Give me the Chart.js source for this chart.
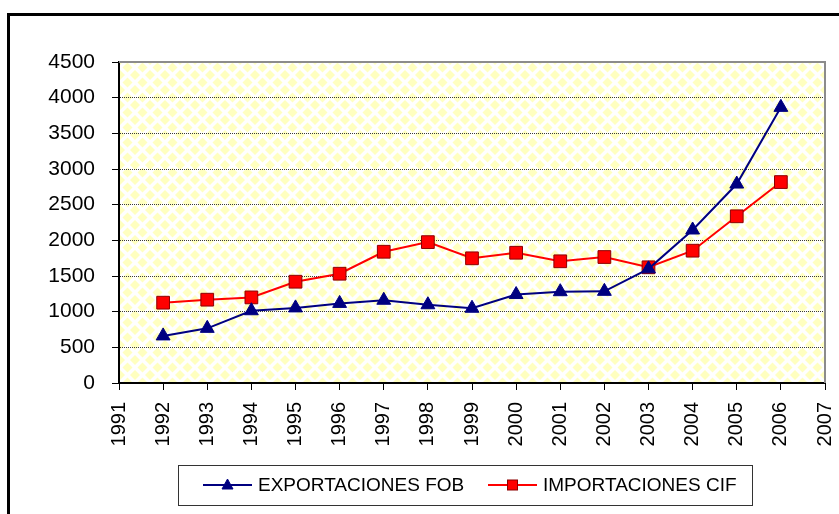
<!DOCTYPE html>
<html>
<head>
<meta charset="utf-8">
<script src="https://cdn.jsdelivr.net/npm/chart.js@4/dist/chart.umd.min.js"></script>
<style>
html,body{margin:0;padding:0;background:#fff;overflow:hidden;}
#wrap{position:relative;width:839px;height:514px;}
</style>
</head>
<body>
<div id="wrap"><canvas id="c" width="839" height="514"></canvas></div>
<script>
const years = ['1991','1992','1993','1994','1995','1996','1997','1998','1999','2000','2001','2002','2003','2004','2005','2006','2007'];
const exportaciones = [null, 660, 766, 1013, 1053, 1116, 1160, 1097, 1048, 1240, 1280, 1285, 1600, 2145, 2789, 3864, null];
const importaciones = [null, 1126, 1168, 1200, 1420, 1532, 1840, 1975, 1748, 1826, 1706, 1766, 1622, 1855, 2337, 2817, null];
const yTicks = [0, 500, 1000, 1500, 2000, 2500, 3000, 3500, 4000, 4500];
const seriesNames = ['EXPORTACIONES FOB', 'IMPORTACIONES CIF'];

function makePattern(ctx) {
  const p = document.createElement('canvas');
  p.width = 15; p.height = 15;
  const g = p.getContext('2d');
  g.fillStyle = '#ffffff';
  g.fillRect(0, 0, 15, 15);
  g.fillStyle = '#ffffc0';
  const d = 5;
  const pts = [[0,0],[15,0],[0,15],[15,15],[7.5,7.5]];
  pts.forEach(([x,y]) => {
    g.beginPath();
    g.moveTo(x, y - d); g.lineTo(x + d, y); g.lineTo(x, y + d); g.lineTo(x - d, y);
    g.closePath(); g.fill();
  });
  return ctx.createPattern(p, 'repeat');
}

const decor = {
  id: 'decor',
  beforeDraw(chart) {
    const {ctx, chartArea: a} = chart;
    ctx.save();
    ctx.fillStyle = '#000';
    ctx.fillRect(7, 13, 900, 3);
    ctx.fillRect(7, 13, 3, 600);
    ctx.fillStyle = makePattern(ctx);
    ctx.fillRect(a.left, a.top, a.right - a.left, a.bottom - a.top);
    ctx.restore();
  },
  beforeDatasetsDraw(chart) {
    const {ctx, chartArea: a} = chart;
    ctx.save();
    ctx.strokeStyle = '#8c8c8c';
    ctx.lineWidth = 2;
    ctx.beginPath();
    ctx.moveTo(a.left, a.top);
    ctx.lineTo(a.right, a.top);
    ctx.lineTo(a.right, a.bottom);
    ctx.stroke();
    ctx.restore();
  },
  afterDraw(chart) {
    const ctx = chart.ctx;
    ctx.save();
    ctx.strokeStyle = '#333';
    ctx.lineWidth = 1;
    ctx.strokeRect(178.5, 465.5, 574, 40);
    const cy = 485;
    const entries = [
      {x0: 203, x1: 252, tx: 258},
      {x0: 488, x1: 537, tx: 543}
    ];
    ctx.font = '19px "Liberation Sans", Arial, sans-serif';
    ctx.textBaseline = 'middle';
    ctx.textAlign = 'left';
    chart.data.datasets.forEach((ds, i) => {
      const e = entries[i];
      ctx.strokeStyle = ds.borderColor;
      ctx.lineWidth = 2;
      ctx.beginPath();
      ctx.moveTo(e.x0, cy); ctx.lineTo(e.x1, cy); ctx.stroke();
      const mx = (e.x0 + e.x1) / 2;
      ctx.fillStyle = ds.pointBackgroundColor;
      ctx.strokeStyle = ds.pointBorderColor;
      ctx.lineWidth = 1;
      if (ds.pointStyle === 'triangle') {
        ctx.beginPath();
        ctx.moveTo(mx, cy - 6); ctx.lineTo(mx + 5.5, cy + 4); ctx.lineTo(mx - 5.5, cy + 4);
        ctx.closePath(); ctx.fill(); ctx.stroke();
      } else {
        ctx.fillRect(mx - 5, cy - 5, 10, 10);
        ctx.strokeRect(mx - 5, cy - 5, 10, 10);
      }
      ctx.fillStyle = '#000';
      ctx.fillText(ds.label, e.tx, cy + 1);
    });
    ctx.restore();
  }
};

new Chart(document.getElementById('c'), {
  type: 'line',
  data: {
    labels: years,
    datasets: [
      {
        label: seriesNames[0],
        data: exportaciones,
        borderColor: '#000080',
        borderWidth: 2,
        pointStyle: 'triangle',
        pointRadius: 8,
        pointBackgroundColor: '#000080',
        pointBorderColor: '#000080',
        pointBorderWidth: 1,
        tension: 0
      },
      {
        label: seriesNames[1],
        data: importaciones,
        borderColor: '#ff0000',
        borderWidth: 2,
        pointStyle: 'rect',
        pointRadius: 9,
        pointBackgroundColor: '#ff0000',
        pointBorderColor: '#8b0000',
        pointBorderWidth: 1,
        tension: 0
      }
    ]
  },
  options: {
    responsive: false,
    animation: false,
    layout: {padding: {left: 0, top: 62, right: 14, bottom: 0}},
    plugins: {legend: {display: false}, tooltip: {enabled: false}, title: {display: false}},
    scales: {
      x: {
        type: 'category',
        offset: false,
        grid: {drawOnChartArea: false, drawTicks: true, tickLength: 7, tickColor: '#000', tickWidth: 1},
        border: {display: true, color: '#000', width: 2},
        ticks: {
          color: '#000',
          font: {family: '"Liberation Sans", Arial, sans-serif', size: 20},
          minRotation: 90, maxRotation: 90, padding: 12, autoSkip: false
        },
        afterFit(s) { s.height = 131; s.paddingLeft = 0; s.paddingRight = 0; }
      },
      y: {
        min: 0, max: 4500,
        afterBuildTicks(s) { s.ticks = yTicks.map(v => ({value: v})); },
        grid: {
          color: (c) => (c.tick && (c.tick.value === 0 || c.tick.value === 4500)) ? 'rgba(0,0,0,0)' : '#3a3a3a',
          lineWidth: 1,
          tickLength: 7, tickColor: '#000', tickWidth: 1, tickBorderDash: []
        },
        border: {display: true, color: '#000', width: 2, dash: [1, 1]},
        ticks: {
          color: '#000',
          font: {family: '"Liberation Sans", Arial, sans-serif', size: 21},
          padding: 17,
          callback: (v) => String(v)
        },
        afterFit(s) { s.width = 119; s.paddingTop = 0; s.paddingBottom = 0; }
      }
    }
  },
  plugins: [decor]
});
</script>
</body>
</html>
